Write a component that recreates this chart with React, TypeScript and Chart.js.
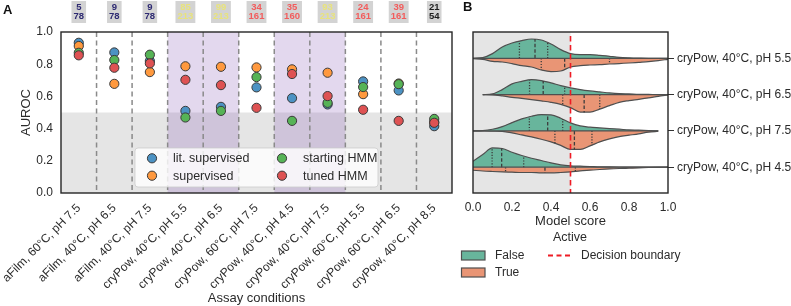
import React, { useEffect, useRef } from 'react';
import { Chart, registerables } from 'chart.js';

Chart.register(...registerables);

// ---------------- data: panel A ----------------
const CONDITIONS = [
  'aFilm, 60°C, pH 7.5',
  'aFilm, 40°C, pH 6.5',
  'aFilm, 40°C, pH 7.5',
  'cryPow, 40°C, pH 5.5',
  'cryPow, 40°C, pH 6.5',
  'cryPow, 60°C, pH 7.5',
  'cryPow, 40°C, pH 4.5',
  'cryPow, 40°C, pH 7.5',
  'cryPow, 60°C, pH 5.5',
  'cryPow, 60°C, pH 6.5',
  'cryPow, 40°C, pH 8.5',
];
const LIT_SUPERVISED = [0.933, 0.873, 0.82, 0.51, 0.535, 0.656, 0.589, 0.55, 0.693, 0.637, 0.415];
const SUPERVISED = [0.913, 0.678, 0.751, 0.787, 0.784, 0.78, 0.768, 0.747, 0.614, 0.68, 0.44];
const STARTING_HMM = [0.871, 0.826, 0.859, 0.469, 0.51, 0.72, 0.448, 0.56, 0.658, 0.676, 0.46];
const TUNED_HMM = [0.855, 0.778, 0.805, 0.703, 0.67, 0.529, 0.739, 0.602, 0.517, 0.448, 0.436];
const ACTIVE_COUNTS = [5, 9, 9, 85, 99, 34, 35, 93, 24, 39, 21];
const TOTAL_COUNTS = [78, 78, 78, 213, 213, 161, 160, 213, 161, 161, 54];
const HIGHLIGHTED_CONDITIONS = [
  'cryPow, 40°C, pH 5.5',
  'cryPow, 40°C, pH 6.5',
  'cryPow, 40°C, pH 4.5',
  'cryPow, 40°C, pH 7.5',
];
const AUROC_TICKS = [0, 0.2, 0.4, 0.6, 0.8, 1.0];
const CHANCE_LEVEL = 0.5;

// ---------------- data: panel B ----------------
const VIOLIN_ROWS = ['cryPow, 40°C, pH 5.5', 'cryPow, 40°C, pH 6.5', 'cryPow, 40°C, pH 7.5', 'cryPow, 40°C, pH 4.5'];
const SCORE_GRID = [0, 0.05, 0.1, 0.15, 0.2, 0.25, 0.3, 0.35, 0.4, 0.45, 0.5, 0.55, 0.6, 0.65, 0.7, 0.75, 0.8, 0.85, 0.9, 0.95, 1.0];
// densities (Active = False, upper halves)
const DENSITY_FALSE = [
  [0, 0.7, 4.7, 11.3, 15.3, 17.7, 19.3, 18.3, 14.3, 8.7, 4.7, 3.7, 3.7, 3, 2, 1, 0.5, 0.2, 0, 0, 0],
  [null, 0, 0.7, 5, 10.7, 13.3, 15, 14, 11.7, 9, 6.7, 5, 3.7, 2.7, 1.7, 1, 0.7, 0.3, 0.2, 0, 0],
  [0, 0.3, 1.7, 4.3, 8.3, 12, 14.7, 16.3, 16, 12.7, 8, 5, 3.7, 3, 2.3, 1.7, 1, 0.7, 0.3, 0, null],
  [6, 12.7, 19.3, 18.7, 15, 11.7, 9, 6.7, 4.3, 2.3, 1.3, 1, 0.7, 0.3, 0.3, 0.2, 0, 0, 0, 0, 0],
];
// densities (Active = True, lower halves)
const DENSITY_TRUE = [
  [0.3, 1, 3, 3.7, 5.3, 7.3, 8.7, 11.7, 13.3, 12.7, 8.7, 7.3, 6.7, 6.3, 5.7, 5.3, 4.7, 4, 3.3, 2.3, 1],
  [null, 0, 0.2, 1.3, 2.7, 3.8, 5, 6.3, 7.7, 9.7, 13, 17.5, 17.5, 14.5, 11, 7.7, 6, 4.7, 3.3, 1.7, 0.3],
  [0, 0, 0.2, 0.5, 2, 4, 6, 8.3, 11, 14.5, 18.5, 18.5, 15, 11, 8, 5.7, 4.3, 2.9, 1.3, 0.3, null],
  [3, 3.8, 4.3, 4.7, 5, 5.3, 5.3, 5.7, 5.7, 5.3, 4.7, 3.7, 3, 2.3, 1.7, 1.3, 1, 0.7, 0.3, 0.1, 0],
];
// quartiles (Q1, median, Q3) and density there
const QUARTILES_FALSE = [[0.238, 0.318, 0.383], [0.29, 0.36, 0.47], [0.289, 0.383, 0.46], [0.098, 0.147, 0.26]];
const QUARTILE_DENSITY_FALSE = [[17, 19.3, 15.5], [14.7, 13.7, 8], [14.2, 16.2, 12], [19.5, 18.8, 11.2]];
const QUARTILES_TRUE = [[0.35, 0.47, 0.7], [0.46, 0.57, 0.65], [0.42, 0.52, 0.61], [0.167, 0.369, 0.525]];
const QUARTILE_DENSITY_TRUE = [[11.7, 11.5, 5.7], [10.3, 18, 14.5], [12.5, 18.5, 14.3], [4.8, 5.7, 4.2]];
const DECISION_BOUNDARY = 0.5;
const SCORE_TICKS = [0, 0.2, 0.4, 0.6, 0.8, 1.0];

// ---------------- styles ----------------
const FONT = '"Liberation Sans", Arial, Helvetica, sans-serif';
const TEXT = '#2b2b2b';
const C_BLUE = '#4c92c3';
const C_ORANGE = '#ff993e';
const C_GREEN = '#56b356';
const C_RED = '#de5253';
const BADGE_COLORS = ['#2e2a72', '#2e2a72', '#2e2a72', '#e8e37c', '#e8e37c', '#f25c5c', '#f25c5c', '#e8e37c', '#f25c5c', '#f25c5c', '#1e1e1e'];
const V_GREEN = '#68b59c';
const V_ORANGE = '#e99575';
const V_EDGE = '#4f4f4f';
const DENSITY_SCALE = 1 / 36.3;

Chart.defaults.font.family = FONT;
Chart.defaults.color = TEXT;

function makeChartA(canvas: HTMLCanvasElement) {
  const series = [
    { label: 'lit. supervised', data: LIT_SUPERVISED, color: C_BLUE, order: 3 },
    { label: 'supervised', data: SUPERVISED, color: C_ORANGE, order: 2 },
    { label: 'starting HMM', data: STARTING_HMM, color: C_GREEN, order: 1 },
    { label: 'tuned HMM', data: TUNED_HMM, color: C_RED, order: 0 },
  ];
  const plugin = {
    id: 'panelA',
    beforeDatasetsDraw(chart: any) {
      const { ctx, chartArea: a, scales } = chart;
      const x = scales.x, y = scales.y;
      ctx.save();
      const yHalf = y.getPixelForValue(CHANCE_LEVEL);
      ctx.fillStyle = '#e5e5e5';
      ctx.fillRect(a.left, yHalf, a.right - a.left, a.bottom - yHalf);
      const step = x.getPixelForValue(1) - x.getPixelForValue(0);
      ctx.fillStyle = 'rgba(148,103,189,0.26)';
      CONDITIONS.forEach((c, i) => {
        if (HIGHLIGHTED_CONDITIONS.includes(c)) {
          const cx = x.getPixelForValue(i);
          ctx.fillRect(cx - step / 2, a.top, step, a.bottom - a.top);
        }
      });
      ctx.strokeStyle = '#8a8a8a';
      ctx.lineWidth = 1.5;
      ctx.setLineDash([5, 3.5]);
      for (let i = 0; i < CONDITIONS.length - 1; i++) {
        const bx = x.getPixelForValue(i) + step / 2;
        ctx.beginPath();
        ctx.moveTo(bx, a.top);
        ctx.lineTo(bx, a.bottom);
        ctx.stroke();
      }
      ctx.restore();
    },
    afterDatasetsDraw(chart: any) {
      const { ctx, chartArea: a } = chart;
      ctx.save();
      // legend
      const lx = a.left + 74, ly = a.top + 116, lw = 243, lh = 39;
      ctx.beginPath();
      ctx.roundRect(lx, ly, lw, lh, 3);
      ctx.fillStyle = 'rgba(255,255,255,0.8)';
      ctx.fill();
      ctx.strokeStyle = 'rgba(204,204,204,0.8)';
      ctx.lineWidth = 1;
      ctx.stroke();
      const cols = [0, 130];
      const rows = [10.3, 27.7];
      ctx.font = `12.5px ${FONT}`;
      ctx.textBaseline = 'middle';
      ctx.textAlign = 'left';
      series.forEach((s, i) => {
        const cx = lx + 17 + cols[Math.floor(i / 2)];
        const cy = ly + rows[i % 2];
        ctx.beginPath();
        ctx.arc(cx, cy, 4.6, 0, Math.PI * 2);
        ctx.fillStyle = s.color;
        ctx.fill();
        ctx.strokeStyle = '#3a3a3a';
        ctx.lineWidth = 1;
        ctx.stroke();
        ctx.fillStyle = TEXT;
        ctx.fillText(s.label, cx + 21, cy + 0.5);
      });
      // frame
      ctx.strokeStyle = '#262626';
      ctx.lineWidth = 1.4;
      ctx.strokeRect(a.left, a.top, a.right - a.left, a.bottom - a.top);
      ctx.restore();
    },
    afterDraw(chart: any) {
      const { ctx, scales } = chart;
      const x = scales.x;
      ctx.save();
      ctx.font = `bold 9.5px ${FONT}`;
      ctx.textAlign = 'center';
      ctx.textBaseline = 'middle';
      CONDITIONS.forEach((c, i) => {
        const cx = x.getPixelForValue(i);
        const t1 = String(ACTIVE_COUNTS[i]);
        const t2 = String(TOTAL_COUNTS[i]);
        const w = Math.max(ctx.measureText(t1).width, ctx.measureText(t2).width) + 4;
        ctx.fillStyle = '#d3d3d3';
        ctx.fillRect(cx - w / 2, 1, w, 22);
        ctx.fillStyle = BADGE_COLORS[i];
        ctx.fillText(t1, cx, 7);
        ctx.fillText(t2, cx, 16.7);
      });
      ctx.font = `bold 13px ${FONT}`;
      ctx.textAlign = 'left';
      ctx.textBaseline = 'alphabetic';
      ctx.fillStyle = '#111';
      ctx.fillText('A', 3, 13.5);
      ctx.restore();
    },
  };

  return new Chart(canvas, {
    type: 'line',
    data: {
      labels: CONDITIONS,
      datasets: series.map((s) => ({
        label: s.label,
        data: s.data,
        order: s.order,
        showLine: false,
        borderColor: s.color,
        backgroundColor: s.color,
        pointBackgroundColor: s.color,
        pointBorderColor: '#3a3a3a',
        pointBorderWidth: 1,
        pointRadius: 4.6,
      })),
    },
    options: {
      animation: false,
      responsive: false,
      devicePixelRatio: 1,
      layout: { padding: { left: 0, top: 32, right: 8, bottom: 0 } },
      plugins: { legend: { display: false }, tooltip: { enabled: false } },
      scales: {
        x: {
          type: 'category',
          offset: true,
          grid: { display: false, drawTicks: false },
          border: { display: false },
          ticks: { autoSkip: false, maxRotation: 45, minRotation: 45, padding: 8, color: TEXT, font: { size: 12 } },
          title: { display: true, text: 'Assay conditions', color: TEXT, font: { size: 13 }, padding: { top: 0, bottom: 0 } },
          afterFit: (s: any) => { s.height = 113; s.paddingLeft = 0; s.paddingRight = 0; },
        },
        y: {
          type: 'linear',
          min: 0,
          max: 1,
          grid: { display: false, drawTicks: false },
          border: { display: false },
          ticks: { padding: 8, color: TEXT, font: { size: 12 }, callback: (v: any) => Number(v).toFixed(1) },
          afterBuildTicks: (s: any) => { s.ticks = AUROC_TICKS.map((v) => ({ value: v })); },
          title: { display: true, text: 'AUROC', color: TEXT, font: { size: 13 }, padding: { top: 19, bottom: 0 } },
          afterFit: (s: any) => { s.width = 61; },
        },
      },
    } as any,
    plugins: [plugin],
  });
}

function makeChartB(canvas: HTMLCanvasElement) {
  const datasets: any[] = [];
  VIOLIN_ROWS.forEach((row, r) => {
    const half = (dens: (number | null)[], sign: number, color: string) => ({
      data: SCORE_GRID.map((v, k) => ({ x: v, y: dens[k] == null ? null : r + sign * (dens[k] as number) * DENSITY_SCALE })),
      fill: { value: r },
      backgroundColor: color,
      borderColor: V_EDGE,
      borderWidth: 1.2,
      pointRadius: 0,
      cubicInterpolationMode: 'monotone',
      spanGaps: false,
      order: 2,
    });
    datasets.push(half(DENSITY_FALSE[r], -1, V_GREEN));
    datasets.push(half(DENSITY_TRUE[r], 1, V_ORANGE));
    // baseline between the halves
    const present = SCORE_GRID.filter((v, k) => DENSITY_FALSE[r][k] != null || DENSITY_TRUE[r][k] != null);
    datasets.push({
      data: [{ x: present[0], y: r }, { x: present[present.length - 1], y: r }],
      borderColor: V_EDGE, borderWidth: 1.2, pointRadius: 0, fill: false, order: 0,
    });
    const quart = (qs: number[], hs: number[], sign: number) => {
      qs.forEach((q, j) => {
        datasets.push({
          data: [{ x: q, y: r }, { x: q, y: r + sign * hs[j] * DENSITY_SCALE }],
          borderColor: '#3d3d3d',
          borderWidth: 1.3,
          borderDash: j === 1 ? [3.5, 2] : [1.2, 1.6],
          pointRadius: 0,
          fill: false,
          order: 0,
        });
      });
    };
    quart(QUARTILES_FALSE[r], QUARTILE_DENSITY_FALSE[r], -1);
    quart(QUARTILES_TRUE[r], QUARTILE_DENSITY_TRUE[r], 1);
  });

  const plugin = {
    id: 'panelB',
    beforeDatasetsDraw(chart: any) {
      const { ctx, chartArea: a, scales } = chart;
      const xb = scales.x.getPixelForValue(DECISION_BOUNDARY);
      ctx.save();
      ctx.fillStyle = '#e5e5e5';
      ctx.fillRect(a.left, a.top, xb - a.left, a.bottom - a.top);
      ctx.restore();
    },
    afterDatasetsDraw(chart: any) {
      const { ctx, chartArea: a, scales } = chart;
      const xb = scales.x.getPixelForValue(DECISION_BOUNDARY);
      ctx.save();
      ctx.strokeStyle = '#ee1c25';
      ctx.lineWidth = 1.6;
      ctx.setLineDash([5.5, 3.5]);
      ctx.beginPath();
      ctx.moveTo(xb, a.top + 4);
      ctx.lineTo(xb, a.bottom);
      ctx.stroke();
      ctx.setLineDash([]);
      ctx.strokeStyle = '#262626';
      ctx.lineWidth = 1.4;
      ctx.strokeRect(a.left, a.top, a.right - a.left, a.bottom - a.top);
      ctx.restore();
    },
    afterDraw(chart: any) {
      const { ctx } = chart;
      ctx.save();
      ctx.textBaseline = 'middle';
      ctx.textAlign = 'center';
      ctx.fillStyle = TEXT;
      ctx.font = `12.5px ${FONT}`;
      ctx.fillText('Active', 110, 237.5);
      ctx.font = `12px ${FONT}`;
      ctx.textAlign = 'left';
      const items = [
        { label: 'False', color: V_GREEN, y: 255.5 },
        { label: 'True', color: V_ORANGE, y: 272.5 },
      ];
      items.forEach((it) => {
        ctx.fillStyle = it.color;
        ctx.fillRect(1.5, it.y - 4.5, 23.5, 9);
        ctx.strokeStyle = V_EDGE;
        ctx.lineWidth = 1.2;
        ctx.strokeRect(1.5, it.y - 4.5, 23.5, 9);
        ctx.fillStyle = TEXT;
        ctx.fillText(it.label, 35, it.y + 0.5);
      });
      ctx.strokeStyle = '#ee1c25';
      ctx.lineWidth = 1.8;
      ctx.setLineDash([5, 3.5]);
      ctx.beginPath();
      ctx.moveTo(88, 255.5);
      ctx.lineTo(111, 255.5);
      ctx.stroke();
      ctx.setLineDash([]);
      ctx.fillStyle = TEXT;
      ctx.fillText('Decision boundary', 121, 256);
      ctx.font = `bold 13px ${FONT}`;
      ctx.fillStyle = '#111';
      ctx.textBaseline = 'alphabetic';
      ctx.fillText('B', 3, 11);
      ctx.restore();
    },
  };

  return new Chart(canvas, {
    type: 'line',
    data: { datasets },
    options: {
      animation: false,
      responsive: false,
      devicePixelRatio: 1,
      layout: { padding: { left: 13, top: 32, right: 0, bottom: 77 } },
      plugins: { legend: { display: false }, tooltip: { enabled: false } },
      scales: {
        x: {
          type: 'linear',
          min: 0,
          max: 1,
          grid: { display: false, drawTicks: false },
          border: { display: false },
          ticks: { padding: 7, color: TEXT, font: { size: 12 }, callback: (v: any) => Number(v).toFixed(1) },
          afterBuildTicks: (s: any) => { s.ticks = SCORE_TICKS.map((v) => ({ value: v })); },
          title: { display: true, text: 'Model score', color: TEXT, font: { size: 13 }, padding: { top: 0, bottom: 0 } },
          afterFit: (s: any) => { s.height = 36; s.paddingLeft = 0; s.paddingRight = 0; },
        },
        y: {
          type: 'linear',
          position: 'right',
          reverse: true,
          min: -0.7245,
          max: 3.71,
          grid: { display: true, drawOnChartArea: false, drawTicks: true, tickLength: 6, color: '#333', lineWidth: 1 },
          border: { display: false },
          ticks: { padding: 3, color: TEXT, font: { size: 12 }, callback: (v: any) => VIOLIN_ROWS[v] ?? '' },
          afterBuildTicks: (s: any) => { s.ticks = VIOLIN_ROWS.map((_, i) => ({ value: i })); },
          afterFit: (s: any) => { s.width = 123; },
        },
      },
    } as any,
    plugins: [plugin],
  });
}

export default function App() {
  const refA = useRef<HTMLCanvasElement>(null);
  const refB = useRef<HTMLCanvasElement>(null);
  useEffect(() => {
    const a = makeChartA(refA.current as HTMLCanvasElement);
    const b = makeChartB(refB.current as HTMLCanvasElement);
    return () => {
      a.destroy();
      b.destroy();
    };
  }, []);
  return (
    <div style={{ position: 'absolute', left: 0, top: 0, width: 791, height: 306, background: '#fff', overflow: 'hidden' }}>
      <canvas ref={refA} width={460} height={306} style={{ position: 'absolute', left: 0, top: 0, width: 460, height: 306 }} />
      <canvas ref={refB} width={331} height={306} style={{ position: 'absolute', left: 460, top: 0, width: 331, height: 306 }} />
    </div>
  );
}
